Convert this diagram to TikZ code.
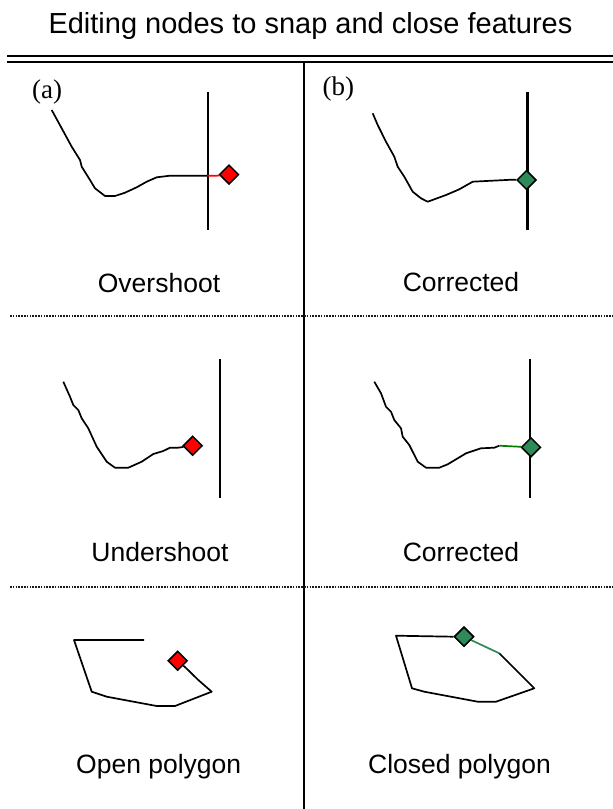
\documentclass[tikz,border=0pt]{standalone}
\usepackage{fontspec}
\setmainfont{Liberation Sans}
\newfontfamily\seriffont{Liberation Serif}
\usetikzlibrary{shapes.geometric}
\definecolor{snapred}{RGB}{255,0,0}
\definecolor{snapgreen}{RGB}{46,139,87}
\definecolor{linkgreen}{RGB}{0,128,0}
\begin{document}
\begin{tikzpicture}[x=1pt,y=-1pt,
  curve/.style={line width=1.7pt,line join=round},
  barrier/.style={line width=2.2pt},
  rule/.style={line width=2.2pt},
  dotrule/.style={line width=1.3pt,black!90,dash pattern=on 1.6pt off 1.2pt},
  vertex/.style={diamond,draw=black,line width=1.5pt,inner sep=0pt,minimum size=19.5pt},
  badvertex/.style={vertex,fill=snapred},
  goodvertex/.style={vertex,fill=snapgreen},
  caption/.style={font=\fontsize{26.5}{30}\selectfont,anchor=base,inner sep=0pt},
  tag/.style={font=\seriffont\fontsize{27}{30}\selectfont,anchor=base west,inner sep=0pt}]
\useasboundingbox (0,0) rectangle (613,809);
% title
\node[font=\fontsize{29}{32}\selectfont,anchor=base,inner sep=0pt] (title) at (310.5,33.3) {Editing nodes to snap and close features};
% frame lines
\draw[rule] (7,56) -- (613,56);
\draw[rule] (7,62) -- (613,62);
\draw[line width=2.5pt] (304,62) -- (304,809);
\draw[dotrule] (10,316) -- (613,316);
\draw[dotrule] (10,587) -- (613,587);
% tags
\node[tag] (taga) at (32,98) {(a)};
\node[tag] (tagb) at (322.5,95.5) {(b)};
% ---- panel a1: overshoot
\draw[barrier] (208.3,91.7) -- (208.3,230);
\draw[curve] (51.7,110) -- (61.7,128.3) -- (71.7,146.7) -- (80,160) -- (81.7,166.7) -- (90,180) -- (95,188.3) -- (105,196) -- (115,196) -- (125,192.7) -- (136.7,187.3) -- (146.7,181.7) -- (156.7,177.3) -- (170,175.7) -- (207.3,175.7) coordinate (a1end);
\node[badvertex] (a1v) at (229,174.5) {};
\draw[snapred,line width=1.7pt] (a1end) -- (216.7,175.7) -- (a1v);
\node[caption] (cap1) at (159,292) {Overshoot};
% ---- panel b1: corrected
\draw[barrier] (527.5,91.7) -- (527.5,230);
\draw[curve] (372.7,113.3) -- (377.7,125) -- (386,141.7) -- (394.3,156.7) -- (397.7,166.7) -- (404.3,176.7) -- (412.7,191.7) -- (421,198.3) -- (427.7,201.7) -- (434.3,199.3) -- (446,195) -- (459.3,189.3) -- (472.7,181.7) -- (486,181) -- (512,179.7) coordinate (b1end);
\node[goodvertex] (b1v) at (526.5,180) {};
\draw[curve] (b1end) -- (b1v);
\node[caption] (cap2) at (461,291.7) {Corrected};
% ---- panel a2: undershoot
\draw[barrier] (220,359.3) -- (220,498.3);
\draw[curve] (63.3,381.7) -- (70,396.7) -- (73.3,405) -- (78.3,410) -- (81.7,418.3) -- (88.3,428.3) -- (96.7,446.7) -- (106.7,461.7) -- (115,467.7) -- (128.3,467.7) -- (141.7,461.7) -- (153.3,454) -- (163.3,451) -- (170,447.7) -- (178,447.7) coordinate (a2end);
\node[badvertex] (a2v) at (192.7,445.7) {};
\draw[curve] (a2end) -- (a2v);
\node[caption] (cap3) at (160,561.7) {Undershoot};
% ---- panel b2: corrected
\draw[barrier] (530,359.3) -- (530,498.3);
\draw[curve] (374.3,381.7) -- (381,393.3) -- (386,406.7) -- (391,411.7) -- (394.3,420) -- (401,428.3) -- (402.7,436.7) -- (409.3,445) -- (417.7,461.7) -- (426,467.7) -- (439.3,467.7) -- (447.7,464.3) -- (466,453.3) -- (481,448.3) -- (494.3,447.7) -- (499.3,445.7) coordinate (b2end);
\node[goodvertex] (b2v) at (531,447.3) {};
\draw[linkgreen,line width=1.7pt] (b2end) -- (b2v);
\node[caption] (cap4) at (461,561.7) {Corrected};
% ---- panel a3: open polygon
\draw[curve] (144,640) -- (74,640) -- (91.7,691.7) -- (106.7,696.7) -- (156.7,706) -- (175,706) -- (211.7,691.7) -- (198.3,680) -- (186,668) coordinate (a3end);
\node[badvertex] (a3v) at (177.7,660.7) {};
\draw[curve] (a3end) -- (a3v);
\node[caption] (cap5) at (158.7,773) {Open polygon};
% ---- panel b3: closed polygon
\node[goodvertex] (b3v) at (464,636.7) {};
\draw[curve] (b3v.west) -- (396,635.7) -- (412,688.3) -- (424.3,691.7) -- (477.7,701.7) -- (496,701.7) -- (534.3,688.3) -- (499.3,653.3) coordinate (b3end);
\draw[snapgreen,line width=1.7pt] (b3end) -- (b3v);
\node[goodvertex] at (b3v) {};
\node[caption] (cap6) at (459.5,773) {Closed polygon};
\end{tikzpicture}
\end{document}
